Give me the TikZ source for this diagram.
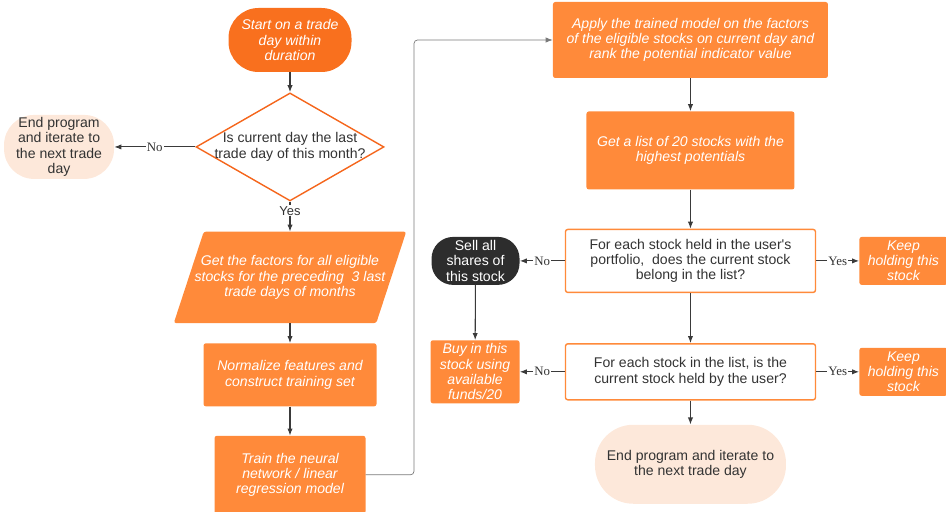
\documentclass[tikz,border=0pt]{standalone}
\usepackage{fontspec}
\setmainfont{Liberation Serif}
\setsansfont{Liberation Sans}
\usepackage{xcolor}
\usepackage{tikz}
\usetikzlibrary{shapes,arrows.meta,positioning,backgrounds}
\definecolor{startOrange}{HTML}{F9701E}
\definecolor{boxOrange}{HTML}{FF8A3A}
\definecolor{edgeOrange}{HTML}{F5661C}
\definecolor{endPeach}{HTML}{FDE8DA}
\definecolor{darkNode}{HTML}{2D2D2D}
\definecolor{textDark}{HTML}{333333}
\definecolor{lineGray}{HTML}{3A3A3A}
\definecolor{loopGray}{HTML}{7A7A7A}
\tikzset{>={Latex[length=6pt,width=4.5pt]}}
\tikzset{flow-line/.style={->, line width=0.9pt, draw=lineGray}}
\tikzset{loop-line/.style={->, line width=0.6pt, draw=loopGray, rounded corners=3pt}}
\tikzset{flow-label/.style={fill=white, inner sep=1pt, text=textDark, font=\rmfamily\fontsize{11}{12}\selectfont}}
\tikzset{flow-node/.style={inner sep=0, align=center, rounded corners=2pt,
    font=\sffamily\fontsize{12}{13}\selectfont}}
\tikzset{orange-box/.style={flow-node, fill=boxOrange, text=white, font=\sffamily\itshape\fontsize{12}{13}\selectfont}}
\tikzset{white-box/.style={flow-node, draw=boxOrange, line width=1.2pt, fill=white, text=textDark}}
\tikzset{start-node/.style={orange-box, fill=startOrange, rounded corners=0.9cm}}
\tikzset{end-node/.style={flow-node, fill=endPeach, text=textDark, rounded corners=0.9cm}}
\tikzset{dark-node/.style={flow-node, fill=darkNode, text=white, rounded corners=0.65cm}}
\tikzset{decision/.style={diamond, draw=edgeOrange, line width=1.2pt, fill=white, inner sep=0,
    minimum width=5.64cm, minimum height=3.24cm}}

\begin{document}
\begin{tikzpicture}
    \useasboundingbox (0,0) rectangle (28.38,-15.36);

    % left column
    \node[start-node, minimum width=3.69cm, minimum height=1.92cm] at (8.7,-1.2) (start)
        {Start on a trade\\day within\\duration};
    \node[decision, below=0.6cm of start,
          label={[flow-node, text=textDark]center:Is current day the last\\trade day of this month?}] (lastday) {};
    \node[end-node, left=2.43cm of lastday, minimum width=3.3cm, minimum height=1.92cm] (endleft)
        {End program\\and iterate to\\the next trade\\day};
    \node[orange-box, fill=none, below=0.9cm of lastday, minimum width=6.96cm, minimum height=2.73cm] (factors)
        {Get the factors for all eligible\\stocks for the preceding\ \ 3 last\\trade days of months};
    \begin{pgfonlayer}{background}
        \fill[boxOrange, rounded corners=2pt] ([xshift=0.9cm]factors.north west) -- (factors.north east)
            -- ([xshift=-0.9cm]factors.south east) -- (factors.south west) -- cycle;
    \end{pgfonlayer}
    \node[orange-box, below=0.6cm of factors, minimum width=5.19cm, minimum height=1.89cm] (normalize)
        {Normalize features and\\construct training set};
    \node[orange-box, below=0.87cm of normalize, minimum width=4.53cm, minimum height=2.34cm] (train)
        {Train the neural\\network / linear\\regression model};

    % right column
    \node[orange-box, right=6.03cm of start, minimum width=8.25cm, minimum height=2.28cm] (apply)
        {Apply the trained model on the factors\\of the eligible stocks on current day and\\rank the potential indicator value};
    \node[orange-box, below=0.99cm of apply, minimum width=6.24cm, minimum height=2.34cm] (toplist)
        {Get a list of 20 stocks with the\\highest potentials};
    \node[white-box, below=1.17cm of toplist, minimum width=7.5cm, minimum height=1.89cm] (heldcheck)
        {For each stock held in the user\textquotesingle s\\portfolio,\ \ does the current stock\\belong in the list?};
    \node[white-box, below=1.5cm of heldcheck, minimum width=7.5cm, minimum height=1.68cm] (listcheck)
        {For each stock in the list, is the\\current stock held by the user?};
    \node[end-node, below=0.72cm of listcheck, minimum width=5.73cm, minimum height=2.37cm, rounded corners=1.15cm] (endright)
        {End program and iterate to\\the next trade day};
    \node[dark-node, left=1.35cm of heldcheck, minimum width=2.64cm, minimum height=1.44cm] (sellall)
        {Sell all\\shares of\\this stock};
    \node[orange-box, left=1.35cm of listcheck, minimum width=2.67cm, minimum height=1.89cm] (buyin)
        {Buy in this\\stock using\\available\\funds/20};
    \node[orange-box, right=1.29cm of heldcheck, minimum width=2.64cm, minimum height=1.44cm] (keepone)
        {Keep\\holding this\\stock};
    \node[orange-box, right=1.29cm of listcheck, minimum width=2.64cm, minimum height=1.44cm] (keeptwo)
        {Keep\\holding this\\stock};

    \draw[flow-line] (start) -- (lastday);
    \draw[flow-line] (lastday) -- node[flow-label] {No} (endleft);
    \draw[flow-line] (lastday) -- node[flow-label, pos=0.3, font=\sffamily\fontsize{11}{12}\selectfont] {Yes} (factors.north);
    \draw[flow-line] (factors.south) -- (normalize);
    \draw[flow-line] (normalize) -- (train);

    \coordinate (loopturn) at (12.42,-1.2);
    \draw[loop-line] (train.east) -| (loopturn) -- (apply.west);

    \draw[flow-line] (apply) -- (toplist);
    \draw[flow-line] (toplist) -- (heldcheck);
    \draw[flow-line] (heldcheck) -- (listcheck);
    \draw[flow-line] (listcheck) -- (endright);
    \draw[flow-line] (heldcheck) -- node[flow-label] {No} (sellall);
    \draw[flow-line] (heldcheck) -- node[flow-label] {Yes} (keepone);
    \draw[flow-line] (listcheck) -- node[flow-label] {No} (buyin);
    \draw[flow-line] (listcheck) -- node[flow-label] {Yes} (keeptwo);
    \draw[flow-line] (sellall) -- (buyin);
\end{tikzpicture}
\end{document}
